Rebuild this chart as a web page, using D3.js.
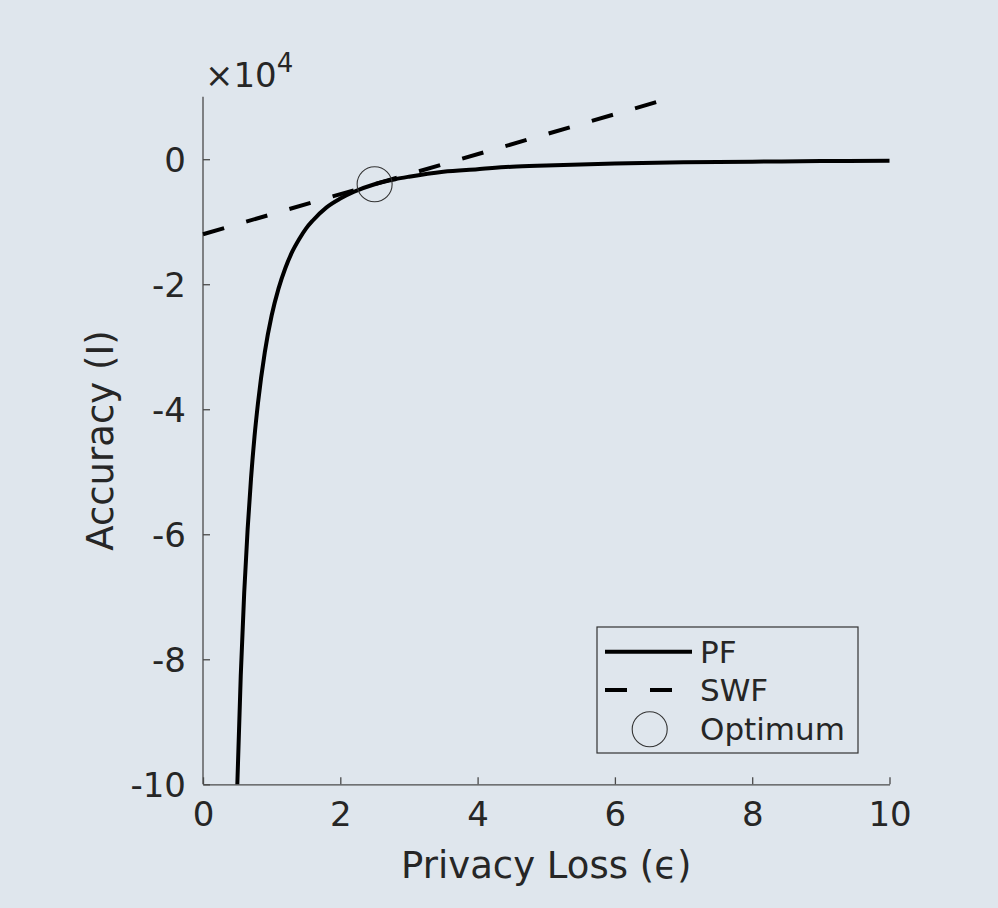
<!DOCTYPE html>
<html>
<head>
<meta charset="utf-8">
<script src="https://cdn.jsdelivr.net/npm/d3@7"></script>
<style>
  html, body { margin: 0; padding: 0; background: #dfe6ed; }
  svg { display: block; font-family: "DejaVu Sans", sans-serif; }
</style>
</head>
<body>
<svg id="chart" width="998" height="908"></svg>
<script>
// Pareto frontier (PF); accuracy in raw units
const pfEps = [0.5, 0.55, 0.6, 0.65, 0.7, 0.75, 0.8, 0.9, 1.0, 1.1, 1.2, 1.3, 1.4, 1.5, 1.6,
               1.8, 2.0, 2.2, 2.5, 2.8, 3.0, 3.5, 4, 4.5, 5, 6, 7, 8, 9, 10];
const pfAcc = [-100000, -82600, -69400, -59200, -51000, -44400, -39100, -30900, -25000, -20700,
               -17400, -14800, -12800, -11100, -9800, -7700, -6300, -5200, -4000, -3200, -2800,
               -2000, -1600, -1200, -1000, -700, -500, -400, -300, -250];

// Social welfare function (SWF) tangent line
const swfEps = [0, 6.875];
const swfAcc = [-12000, 10000];

// Optimum point
const optEps = [2.5];
const optAcc = [-4000];

const xTicks = [0, 2, 4, 6, 8, 10];
const yTicks = [0, -20000, -40000, -60000, -80000, -100000];
const legendLabels = ['PF', 'SWF', 'Optimum'];

const svg = d3.select('#chart');
const axisColor = '#4a4a4a';
const textColor = '#262626';
const tickFont = 34;

const x = d3.scaleLinear().domain([0, 10]).range([203, 889.5]);
const y = d3.scaleLinear().domain([-100000, 10000]).range([784.3, 96.7]);

// axes: left and bottom only, ticks pointing inward
const xAxis = svg.append('g')
    .attr('transform', `translate(0,${y.range()[0]})`)
    .call(d3.axisBottom(x).tickValues(xTicks).tickSizeInner(-7).tickSizeOuter(0).tickPadding(18)
        .tickFormat(d3.format('d')));
const yAxis = svg.append('g')
    .attr('transform', `translate(${x.range()[0]},0)`)
    .call(d3.axisLeft(y).tickValues(yTicks).tickSizeInner(-7).tickSizeOuter(0).tickPadding(17)
        .tickFormat(d => d / 1e4));

[xAxis, yAxis].forEach(g => {
    g.select('.domain').attr('stroke', axisColor).attr('stroke-width', 1.3);
    g.selectAll('.tick line').attr('stroke', axisColor).attr('stroke-width', 1.3);
    g.selectAll('.tick text').attr('fill', textColor).style('font-size', tickFont + 'px')
        .style('font-family', '"DejaVu Sans", sans-serif');
});
yAxis.selectAll('.tick text').attr('dy', '0.36em');
xAxis.selectAll('.tick text').attr('dy', '0.71em');

// y domain line extends to top of axis
yAxis.select('.domain').attr('d', `M0,${y.range()[0]}V${y.range()[1]}`);

// exponent label
const expo = svg.append('text')
    .attr('x', 205).attr('y', 87)
    .attr('fill', textColor)
    .style('font-size', tickFont + 'px');
expo.append('tspan').text('\u00d710');
expo.append('tspan').attr('dy', -15).style('font-size', '26px').text('4');

// axis labels
svg.append('text')
    .attr('x', (x.range()[0] + x.range()[1]) / 2).attr('y', 878)
    .attr('text-anchor', 'middle')
    .attr('fill', textColor)
    .style('font-size', '37px')
    .text('Privacy Loss (\u03f5)');

svg.append('text')
    .attr('transform', `translate(113,${(y.range()[0] + y.range()[1]) / 2}) rotate(-90)`)
    .attr('text-anchor', 'middle')
    .attr('fill', textColor)
    .style('font-size', '37px')
    .text('Accuracy (I)');

// series
const line = d3.line().x(d => x(d[0])).y(d => y(d[1]));

svg.append('path')
    .datum(pfEps.map((e, i) => [e, pfAcc[i]]))
    .attr('d', line.curve(d3.curveMonotoneX))
    .attr('fill', 'none')
    .attr('stroke', '#000')
    .attr('stroke-width', 4);

svg.append('path')
    .datum(swfEps.map((e, i) => [e, swfAcc[i]]))
    .attr('d', d3.line().x(d => x(d[0])).y(d => y(d[1])))
    .attr('fill', 'none')
    .attr('stroke', '#000')
    .attr('stroke-width', 4)
    .attr('stroke-dasharray', '22,23');

svg.selectAll('circle.opt')
    .data(optEps.map((e, i) => [e, optAcc[i]]))
    .enter()
    .append('circle')
    .attr('class', 'opt')
    .attr('cx', d => x(d[0]))
    .attr('cy', d => y(d[1]))
    .attr('r', 17.5)
    .attr('fill', 'none')
    .attr('stroke', '#333')
    .attr('stroke-width', 1.1);

// legend
const legend = svg.append('g').attr('transform', 'translate(597,627)');
legend.append('rect')
    .attr('width', 261).attr('height', 126)
    .attr('fill', 'none')
    .attr('stroke', '#333')
    .attr('stroke-width', 1.2);

const rowY = [24.7, 63, 102.3];
legendLabels.forEach((label, i) => {
    const row = legend.append('g').attr('transform', `translate(0,${rowY[i]})`);
    if (i < 2) {
        row.append('line')
            .attr('x1', 8).attr('x2', 95)
            .attr('stroke', '#000').attr('stroke-width', 4)
            .attr('stroke-dasharray', i === 1 ? '22,23' : null);
    } else {
        row.append('circle')
            .attr('cx', 52.7).attr('r', 17.5)
            .attr('fill', 'none').attr('stroke', '#333').attr('stroke-width', 1.1);
    }
    row.append('text')
        .attr('x', 103).attr('dy', '0.36em')
        .attr('fill', textColor)
        .style('font-size', '31px')
        .text(label);
});
</script>
</body>
</html>
